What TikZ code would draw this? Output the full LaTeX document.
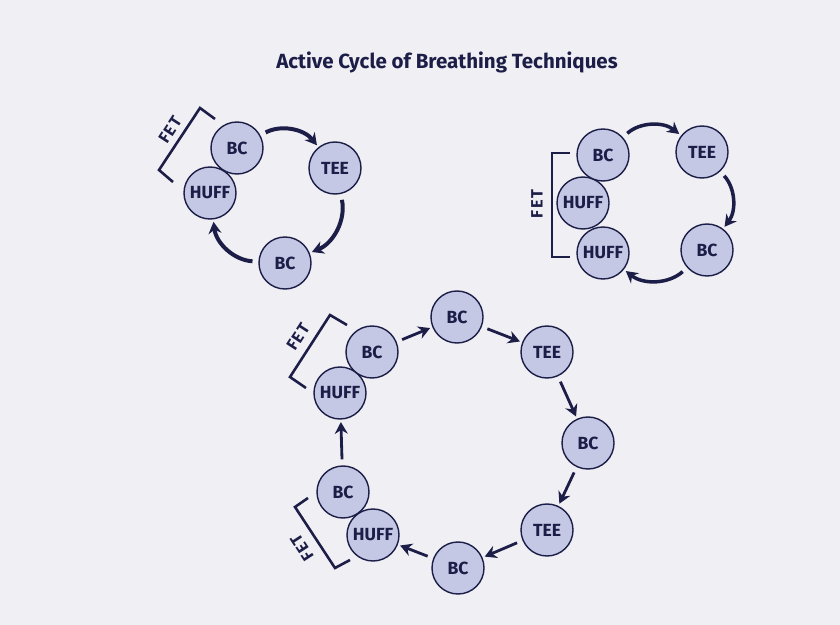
\documentclass[tikz,border=0pt]{standalone}
\usepackage{fontspec}
\setsansfont{Fira Sans}
\usepackage{tikz}
\usetikzlibrary{arrows.meta, positioning, calc}
\usepackage{xcolor}
\definecolor{pagebg}{RGB}{240,239,244}
\definecolor{ink}{RGB}{28,30,72}
\definecolor{discfill}{RGB}{196,200,228}
\tikzset{
  phase/.style={circle, draw=ink, fill=discfill, line width=1.2pt,
                inner sep=0pt, minimum size=1.56cm, text=ink,
                font=\sffamily\bfseries\fontsize{15}{17}\selectfont},
  cycarrow/.style={draw=ink, line width=3.4pt,
                   -{Stealth[length=10pt, width=11pt]},
                   shorten <=5pt, shorten >=2pt},
  thinarrow/.style={cycarrow, line width=2.4pt},
  fetbracket/.style={draw=ink, line width=2.2pt},
  fetlabel/.style={text=ink, inner sep=1pt,
                   font=\sffamily\bfseries\fontsize{14}{16}\selectfont\addfontfeatures{LetterSpace=8}},
}

\begin{document}
\begin{tikzpicture}[x=0.03cm, y=-0.03cm]
    \fill[pagebg] (0,0) rectangle (840,625);
    \useasboundingbox (0,0) rectangle (840,625);
    \node[text=ink, font=\sffamily\bfseries\fontsize{17.5}{20}\selectfont]
      (title) at (447,62) {Active Cycle of Breathing Techniques};
    % Top left cycle
    \node[phase] (huffA) at (210,193) {HUFF};
    \node[phase] (bcA)   at (237,148) {BC};
    \node[phase] (teeA)  at (335,168) {TEE};
    \node[phase] (bcB)   at (285,263) {BC};
    \draw[cycarrow] (bcA) to[bend left=40] (teeA);
    \draw[cycarrow] (teeA) to[bend left=40] (bcB);
    \draw[cycarrow] (bcB) to[bend left=40] (huffA);
    \coordinate (fa1) at (215,119);
    \coordinate (fa2) at (200,108);
    \coordinate (fa3) at (159,170);
    \coordinate (fa4) at (173,182);
    \draw[fetbracket] (fa1) -- (fa2) -- (fa3) -- (fa4);
    \node[fetlabel, rotate=57] (fetA) at (170,130) {FET};
    % Top right cycle
    \node[phase] (huffB) at (583,203) {HUFF};
    \node[phase] (huffC) at (603,253) {HUFF};
    \node[phase] (bcC)   at (603,155) {BC};
    \node[phase] (teeB)  at (702,152) {TEE};
    \node[phase] (bcD)   at (707,250) {BC};
    \draw[cycarrow, line width=3pt] (bcC) to[bend left=40] (teeB);
    \draw[cycarrow, line width=3pt] (teeB) to[bend left=40] (bcD);
    \draw[cycarrow, line width=3pt] (bcD) to[bend left=40] (huffC);
    \coordinate (fb1) at (570,153);
    \coordinate (fb2) at (552,153);
    \coordinate (fb3) at (552,257);
    \coordinate (fb4) at (570,257);
    \draw[fetbracket] (fb1) -- (fb2) -- (fb3) -- (fb4);
    \node[fetlabel, rotate=90] (fetB) at (537,204) {FET};
    % Bottom cycle
    \node[phase] (huffD) at (340,393) {HUFF};
    \node[phase] (bcE)   at (372,352) {BC};
    \node[phase] (bcF)   at (457,317) {BC};
    \node[phase] (teeC)  at (547,352) {TEE};
    \node[phase] (bcG)   at (588,443) {BC};
    \node[phase] (teeD)  at (547,530) {TEE};
    \node[phase] (bcH)   at (458,568) {BC};
    \node[phase] (bcI)   at (343,492) {BC};
    \node[phase] (huffE) at (373,535) {HUFF};
    \draw[thinarrow] (bcE) -- (bcF);
    \draw[thinarrow] (bcF) -- (teeC);
    \draw[thinarrow] (teeC) -- (bcG);
    \draw[thinarrow] (bcG) -- (teeD);
    \draw[thinarrow] (teeD) -- (bcH);
    \draw[thinarrow] (bcH) -- (huffE);
    \draw[thinarrow] (bcI) -- (huffD);
    \coordinate (fc1) at (347,325);
    \coordinate (fc2) at (330,315);
    \coordinate (fc3) at (290,377);
    \coordinate (fc4) at (306,388);
    \draw[fetbracket] (fc1) -- (fc2) -- (fc3) -- (fc4);
    \node[fetlabel, rotate=57] (fetC) at (298,337) {FET};
    \coordinate (fd1) at (308,498);
    \coordinate (fd2) at (295,507);
    \coordinate (fd3) at (335,568);
    \coordinate (fd4) at (350,560);
    \draw[fetbracket] (fd1) -- (fd2) -- (fd3) -- (fd4);
    \node[fetlabel, rotate=123] (fetD) at (302,548) {FET};
  \end{tikzpicture}
\end{document}
